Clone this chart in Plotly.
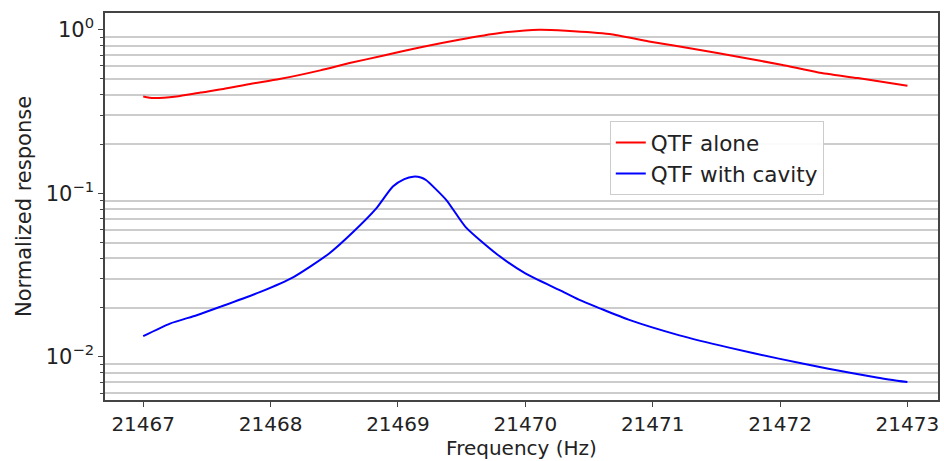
import plotly.graph_objects as go

# Data
freq_alone = [21467.0, 21467.08, 21467.26, 21467.45, 21467.63, 21467.84, 21468.07, 21468.39,
              21468.62, 21468.88, 21469.17, 21469.48, 21469.80, 21470.11, 21470.32, 21470.66,
              21470.97, 21471.36, 21471.68, 21472.01, 21472.30, 21472.61, 21473.0]
resp_alone = [0.391, 0.382, 0.391, 0.413, 0.434, 0.466, 0.499, 0.564,
              0.625, 0.693, 0.779, 0.869, 0.955, 1.0, 0.986, 0.941,
              0.848, 0.755, 0.681, 0.611, 0.548, 0.506, 0.454]

freq_cavity = [21467.0, 21467.21, 21467.42, 21467.60, 21467.92, 21468.18, 21468.46, 21468.65,
               21468.83, 21468.96, 21469.05, 21469.12, 21469.18, 21469.22, 21469.38, 21469.53,
               21469.77, 21470.00, 21470.27, 21470.42, 21470.58, 21470.81, 21471.21, 21471.60,
               21471.99, 21472.38, 21472.77, 21473.0]
resp_cavity = [0.0134, 0.0160, 0.0180, 0.0202, 0.0250, 0.0308, 0.0429, 0.0582,
               0.0809, 0.110, 0.122, 0.1264, 0.125, 0.1206, 0.0910, 0.0624,
               0.0429, 0.0324, 0.0256, 0.0224, 0.0199, 0.0169, 0.01355, 0.0114,
               0.00977, 0.00848, 0.00747, 0.00702]

x_ticks = [21467, 21468, 21469, 21470, 21471, 21472, 21473]
y_major = [0.01, 0.1, 1]
y_major_text = ["10<sup>\u22122</sup>", "10<sup>\u22121</sup>", "10<sup>0</sup>"]
y_minor = [m * d for d in (0.001, 0.01, 0.1) for m in range(2, 10)]

FONT = "DejaVu Sans"

fig = go.Figure()
fig.add_trace(go.Scatter(x=freq_alone, y=resp_alone, mode="lines", name="QTF alone",
                         line=dict(color="#ff0000", width=2, shape="spline", smoothing=0.6)))
fig.add_trace(go.Scatter(x=freq_cavity, y=resp_cavity, mode="lines", name="QTF with cavity",
                         line=dict(color="#0000ff", width=2, shape="spline", smoothing=0.6)))

fig.update_layout(
    width=944, height=461,
    margin=dict(l=105, r=4, t=13, b=61),
    paper_bgcolor="white", plot_bgcolor="white",
    font=dict(family=FONT, size=20, color="#222"),
    showlegend=True,
    legend=dict(x=0.606, y=0.721, xanchor="left", yanchor="top",
                bgcolor="rgba(255,255,255,0.9)", bordercolor="#cccccc", borderwidth=1,
                font=dict(family=FONT, size=21.5, color="#222")),
    xaxis=dict(
        range=[21466.70, 21473.24], tickvals=x_ticks, ticktext=[str(v) for v in x_ticks],
        showgrid=False, zeroline=False, showline=True, linecolor="#444", linewidth=1.5,
        mirror=True, ticks="outside", ticklen=5, tickcolor="#444",
        title=dict(text="Frequency (Hz)", standoff=0, font=dict(size=20)),
        tickfont=dict(size=20),
    ),
    yaxis=dict(
        type="log", range=[-2.263, 0.102],
        tickvals=y_major, ticktext=y_major_text,
        showgrid=False, zeroline=False, showline=True, linecolor="#444", linewidth=1.5,
        mirror=True, ticks="outside", ticklen=5, tickcolor="#444",
        minor=dict(tickmode="array", tickvals=y_minor, ticks="outside", ticklen=3,
                   tickcolor="#444", showgrid=True, gridcolor="#cccccc", gridwidth=1.5),
        title=dict(text="Normalized response", standoff=8, font=dict(size=21)),
        tickfont=dict(size=21),
    ),
)

fig.write_html("out.html")
